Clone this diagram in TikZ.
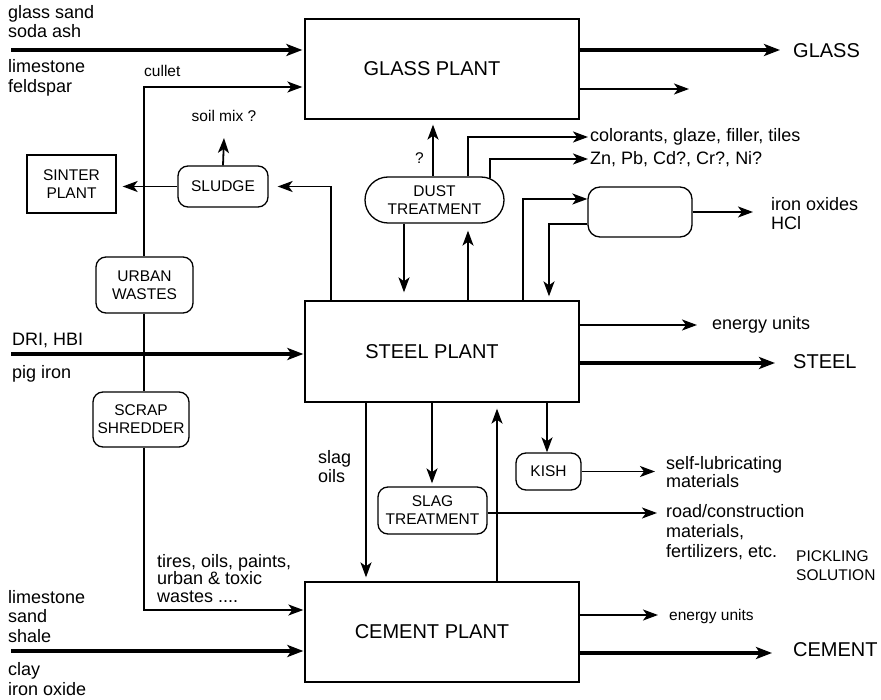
\documentclass[tikz,border=0pt]{standalone}
\usepackage{fontspec}
\setmainfont{Liberation Sans}
\usetikzlibrary{arrows.meta,calc}
\begin{document}
\begin{tikzpicture}[x=1pt,y=-1pt,
  plant/.style={draw,line width=1.3pt,fill=white,minimum width=274pt,minimum height=100pt,inner sep=0pt,font=\fontsize{20}{22}\selectfont},
  rbox/.style={draw,line width=1.3pt,fill=white,rounded corners=10pt,inner sep=0pt,align=center,font=\fontsize{15.5}{18}\selectfont},
  lbl/.style={anchor=base west,inner sep=0pt,font=\fontsize{18}{20}\selectfont},
  slbl/.style={anchor=base west,inner sep=0pt,font=\fontsize{15.5}{18}\selectfont},
  big/.style={anchor=base west,inner sep=0pt,font=\fontsize{20}{22}\selectfont},
  ln/.style={line width=1.8pt},
  flow/.style={line width=1.8pt,-{Stealth[length=15pt,width=11pt,inset=4pt]}},
  heavy/.style={line width=3.5pt,-{Stealth[length=16pt,width=12pt,inset=4pt]}},
]
\useasboundingbox (0,0) rectangle (881,700);

% main plants
\node[plant] (glass) at (442,69) {GLASS PLANT\hspace*{20pt}};
\node[plant,minimum height=101pt] (steel) at (442,351.5) {STEEL PLANT\hspace*{20pt}};
\node[plant] (cement) at (442,632) {CEMENT PLANT\hspace*{20pt}};

% secondary units
\node[rbox,rounded corners=23pt,minimum width=139pt,minimum height=46pt] (dust) at (434.5,200) {DUST\\TREATMENT};
\node[rbox,minimum width=90pt,minimum height=41pt] (sludge) at (223,186.5) {SLUDGE};
\node[rbox,rounded corners=0pt,minimum width=89pt,minimum height=58pt] (sinter) at (71.5,184) {SINTER\\PLANT};
\node[rbox,minimum width=97pt,minimum height=56pt] (urban) at (144.5,285) {URBAN\\WASTES};
\node[rbox,minimum width=96pt,minimum height=55pt] (scrap) at (141,419.5) {SCRAP\\SHREDDER};
\node[rbox,minimum width=109pt,minimum height=47pt] (slag) at (432.5,510.5) {SLAG\\TREATMENT};
\node[rbox,minimum width=65pt,minimum height=37pt] (kish) at (548.5,471.5) {KISH};
\node[rbox,rounded corners=12pt,minimum width=104pt,minimum height=50pt] (pickle) at (640,212) {};

% helper coordinates
\foreach \xx in {144,331,366,404,432,433,468,490,497,523,547,549}
  \coordinate (x\xx) at (\xx,0);
\foreach \yy in {50,87,89,199,224,325,363,513,610,615,653}
  \coordinate (y\yy) at (0,\yy);
\coordinate (in1) at (11,50);
\coordinate (in2) at (11,354);
\coordinate (in3) at (11,651);
\coordinate (out1) at (780,50);
\coordinate (out2) at (689,89);
\coordinate (out3) at (588,137);
\coordinate (out4) at (588,159);
\coordinate (out5) at (753,212);
\coordinate (out6) at (697,325);
\coordinate (out7) at (775,363);
\coordinate (out8) at (657,513);
\coordinate (out9) at (655,473);
\coordinate (out10) at (658,615);
\coordinate (out11) at (772,653);
\coordinate (soil) at (224,138);

% inputs
\draw[heavy,shorten >=2pt] (in1) -- (in1 -| glass.west);
\draw[heavy,shorten >=1pt] (in2) -- (in2 -| steel.west);
\draw[heavy,shorten >=1pt] (in3) -- (in3 -| cement.west);
\draw[flow,shorten >=2pt] (urban.north -| x144) |- (glass.west |- y87);
\draw[ln] (urban.south -| x144) -- (scrap.north -| x144);
\draw[flow,shorten >=1pt] (scrap.south -| x144) |- (cement.west |- y610);

% glass outputs
\draw[heavy] (glass.east |- y50) -- (out1);
\draw[flow] (glass.east |- y89) -- (out2);

% dust treatment
\draw[flow,shorten >=5pt] (dust.north -| x433) -- (glass.south -| x433);
\draw[flow] (dust.north -| x468) |- (out3);
\draw[flow] ($(dust.north -| x490)+(0,2)$) |- (out4);
\draw[flow,shorten >=8pt] (dust.south -| x404) -- (steel.north -| x404);
\draw[flow,shorten >=7pt] (steel.north -| x468) -- (dust.south -| x468);

% sludge
\draw[flow,shorten >=9pt] (steel.north -| x331) |- (sludge.east);
\draw[flow,shorten >=6pt] (sludge.west) -- (sludge.west -| sinter.east);
\draw[flow] (sludge.north) -- (soil);

% pickling
\draw[flow] (steel.north -| x523) |- (pickle.west |- y199);
\draw[flow,shorten >=4pt] (pickle.west |- y224) -| (steel.north -| x549);
\draw[flow] (pickle.east) -- (out5);

% steel outputs
\draw[flow] (steel.east |- y325) -- (out6);
\draw[heavy] (steel.east |- y363) -- (out7);
\draw[flow,shorten >=4pt] (steel.south -| x366) -- (cement.north -| x366);
\draw[flow,shorten >=3pt] (steel.south -| x432) -- (slag.north -| x432);
\draw[flow,shorten >=6pt] (cement.north -| x497) -- (steel.south -| x497);
\draw[flow] (steel.south -| x547) -- (kish.north -| x547);
\draw[flow] (slag.east |- y513) -- (out8);
\draw[flow] (kish.east) -- (kish.east -| out9);

% cement outputs
\draw[flow] (cement.east |- y615) -- (out10);
\draw[heavy] (cement.east |- y653) -- (out11);

% labels
\node[lbl] (l1) at (8,18.3) {glass sand};
\node[lbl] (l2) at (8,37.8) {soda ash};
\node[lbl] (l3) at (8,72.7) {limestone};
\node[lbl] (l4) at (8,92.2) {feldspar};
\node[slbl] (l5) at (144,76.7) {cullet};
\node[slbl] (l6) at (191.5,121.7) {soil mix ?};
\node[slbl] (l7) at (415,164) {?};
\node[big] (l8) at (793,57.3) {GLASS};
\node[lbl] (l9) at (590,141.7) {colorants, glaze, filler, tiles};
\node[lbl] (l10) at (590,165) {Zn, Pb, Cd?, Cr?, Ni?};
\node[lbl] (l11) at (771,210.7) {iron oxides};
\node[lbl] (l12) at (771,229.5) {HCl};
\node[lbl] (l13) at (12,346) {DRI, HBI};
\node[lbl] (l14) at (12,378.3) {pig iron};
\node[lbl] (l15) at (712,329.3) {energy units};
\node[big] (l16) at (793,369) {STEEL};
\node[lbl] (l17) at (318,463.3) {slag};
\node[lbl] (l18) at (318,482.7) {oils};
\node[lbl] (l19) at (666,469.3) {self-lubricating};
\node[lbl] (l20) at (666,487.8) {materials};
\node[lbl] (l21) at (666,517.7) {road/construction};
\node[lbl] (l22) at (666,537.5) {materials,};
\node[lbl] (l23) at (666,557.3) {fertilizers, etc.};
\node[slbl] (l24) at (796,561.7) {PICKLING};
\node[slbl] (l25) at (796,580) {SOLUTION};
\node[lbl] (l26) at (157,567) {tires, oils, paints,};
\node[lbl] (l27) at (157,584.5) {urban \& toxic};
\node[lbl] (l28) at (157,602) {wastes ....};
\node[lbl] (l29) at (8,603.3) {limestone};
\node[lbl] (l30) at (8,622.7) {sand};
\node[lbl] (l31) at (8,642) {shale};
\node[lbl] (l32) at (8,675.5) {clay};
\node[lbl] (l33) at (8,695.5) {iron oxide};
\node[slbl] (l34) at (669,620.7) {energy units};
\node[big] (l35) at (793,656) {CEMENT};
\end{tikzpicture}
\end{document}
